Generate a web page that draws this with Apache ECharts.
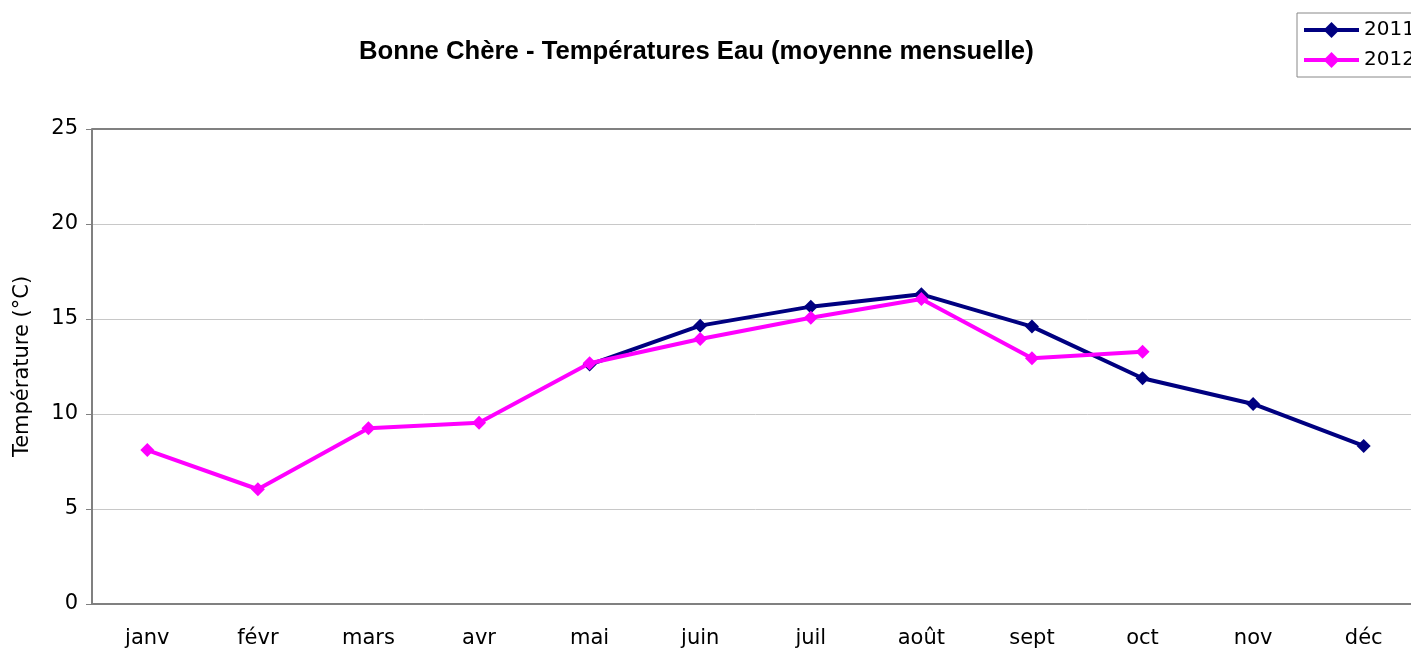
<!DOCTYPE html>
<html>
<head>
    <meta charset="utf-8">
    <title>Bonne Chère - Températures Eau</title>
    <script src="https://cdn.jsdelivr.net/npm/echarts@6.0.0/dist/echarts.min.js"></script>
    <style>
        html, body { margin: 0; padding: 0; background: #fff; overflow: hidden; }
        /* le cadre du graphique déborde un peu à droite, comme dans l'original */
        #chart { width: 1420px; height: 651px; }
    </style>
</head>
<body>
    <div id="chart"></div>
    <script>
        // mois
        const months = ['janv', 'févr', 'mars', 'avr', 'mai', 'juin', 'juil', 'août', 'sept', 'oct', 'nov', 'déc'];
        // températures moyennes mensuelles (°C)
        const temp2011 = [null, null, null, null, 12.6, 14.65, 15.65, 16.3, 14.6, 11.88, 10.53, 8.32];
        const temp2012 = [8.1, 6.04, 9.25, 9.54, 12.67, 13.95, 15.07, 16.05, 12.93, 13.28, null, null];
        const yTicks = [0, 5, 10, 15, 20, 25];

        const chart = echarts.init(document.getElementById('chart'));

        const labelFont = { fontFamily: 'DejaVu Sans', fontSize: 21, color: '#000' };

        chart.setOption({
            animation: false,
            backgroundColor: '#fff',
            title: {
                text: 'Bonne Chère - Températures Eau (moyenne mensuelle)',
                left: 354,
                top: 34,
                textStyle: { fontFamily: 'Liberation Sans', fontSize: 25.7, fontWeight: 'bold', color: '#000' }
            },
            legend: {
                orient: 'vertical',
                left: 1297,
                top: 13,
                padding: [7, 20, 7, 5],
                itemGap: 10,
                itemWidth: 55,
                itemHeight: 20,
                borderColor: '#888',
                borderWidth: 1,
                lineStyle: { width: 4 },
                textStyle: { fontFamily: 'DejaVu Sans', fontSize: 20, color: '#000' },
                data: ['2011', '2012']
            },
            grid: { left: 92, right: 1, top: 129, bottom: 47 },
            xAxis: {
                type: 'category',
                data: months,
                boundaryGap: true,
                axisLine: { lineStyle: { color: '#808080', width: 2 } },
                axisTick: { length: 5, lineStyle: { color: '#808080' } },
                axisLabel: Object.assign({ margin: 24 }, labelFont)
            },
            yAxis: {
                type: 'value',
                min: yTicks[0],
                max: yTicks[yTicks.length - 1],
                interval: 5,
                name: 'Température (°C)',
                nameLocation: 'middle',
                nameGap: 59,
                nameTextStyle: { fontFamily: 'DejaVu Sans', fontSize: 21, color: '#000' },
                axisLine: { show: true, lineStyle: { color: '#808080', width: 2 } },
                axisTick: { show: true, length: 6, lineStyle: { color: '#808080' } },
                axisLabel: Object.assign({ margin: 14 }, labelFont),
                splitLine: { lineStyle: { color: '#c8c8c8', width: 1 } }
            },
            series: [
                {
                    name: '2011',
                    type: 'line',
                    data: temp2011,
                    symbol: 'diamond',
                    symbolSize: 14,
                    lineStyle: { color: '#000080', width: 4 },
                    itemStyle: { color: '#000080' },
                    z: 2
                },
                {
                    name: '2012',
                    type: 'line',
                    data: temp2012,
                    symbol: 'diamond',
                    symbolSize: 14,
                    lineStyle: { color: '#ff00ff', width: 4 },
                    itemStyle: { color: '#ff00ff' },
                    z: 3
                },
                {
                    // bordure supérieure du cadre
                    type: 'line',
                    data: [],
                    markLine: {
                        silent: true,
                        symbol: 'none',
                        label: { show: false },
                        lineStyle: { color: '#808080', width: 2, type: 'solid' },
                        data: [{ yAxis: yTicks[yTicks.length - 1] }]
                    }
                }
            ]
        });
    </script>
</body>
</html>
